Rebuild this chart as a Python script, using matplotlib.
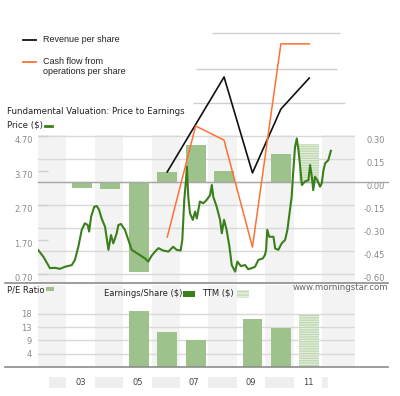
import matplotlib
matplotlib.use("Agg")
import matplotlib.pyplot as plt
from matplotlib.lines import Line2D
from matplotlib.patches import Rectangle

# ---- data ----
band_years = [2002, 2004, 2006, 2008, 2010, 2012]
label_years = [2003, 2005, 2007, 2009, 2011]
year_labels = ["03", "05", "07", "09", "11"]

eps_years = [2003, 2004, 2005, 2006, 2007, 2008, 2010]
eps_values = [-0.04, -0.046, -0.59, 0.066, 0.241, 0.074, 0.181]
ttm_year = 2011
eps_ttm = 0.248

pe_years = [2005, 2006, 2007, 2009, 2010]
pe_values = [18.9, 11.8, 9.1, 16.2, 13.2]
pe_ttm = 17.6

price_points = [
    (2002.00, 1.40), (2002.19, 1.20), (2002.42, 0.87), (2002.60, 0.88), (2002.77, 0.85),
    (2002.95, 0.91), (2003.19, 0.96), (2003.30, 1.11), (2003.42, 1.49), (2003.54, 1.98),
    (2003.65, 2.17), (2003.75, 2.12), (2003.80, 1.93), (2003.87, 2.36), (2003.98, 2.65),
    (2004.07, 2.67), (2004.15, 2.56), (2004.24, 2.31), (2004.36, 2.07), (2004.48, 1.40),
    (2004.57, 1.83), (2004.65, 1.59), (2004.71, 1.73), (2004.77, 1.88), (2004.83, 2.12),
    (2004.92, 2.15), (2005.06, 1.98), (2005.18, 1.69), (2005.30, 1.40), (2005.53, 1.28),
    (2005.77, 1.15), (2005.88, 1.06), (2006.00, 1.23), (2006.12, 1.35), (2006.24, 1.45),
    (2006.41, 1.38), (2006.59, 1.35), (2006.76, 1.49), (2006.88, 1.40), (2007.02, 1.38),
    (2007.08, 1.69), (2007.15, 2.85), (2007.21, 3.42), (2007.24, 3.81), (2007.29, 2.94),
    (2007.35, 2.46), (2007.45, 2.27), (2007.53, 2.51), (2007.59, 2.31), (2007.70, 2.80),
    (2007.82, 2.75), (2007.94, 2.85), (2008.06, 2.99), (2008.12, 3.28), (2008.17, 2.94),
    (2008.29, 2.65), (2008.41, 2.27), (2008.47, 1.88), (2008.55, 2.27), (2008.64, 1.98),
    (2008.74, 1.49), (2008.82, 0.96), (2008.94, 0.77), (2009.02, 1.06), (2009.14, 0.93),
    (2009.29, 0.96), (2009.40, 0.84), (2009.52, 0.87), (2009.64, 0.91), (2009.76, 1.11),
    (2009.91, 1.15), (2009.99, 1.25), (2010.03, 1.40), (2010.07, 1.98), (2010.14, 1.78),
    (2010.29, 1.78), (2010.35, 1.44), (2010.46, 1.40), (2010.58, 1.59), (2010.70, 1.69),
    (2010.78, 1.98), (2010.87, 2.56), (2010.93, 2.94), (2010.99, 3.71), (2011.05, 4.39),
    (2011.11, 4.63), (2011.17, 4.29), (2011.23, 3.81), (2011.29, 3.28), (2011.40, 3.38),
    (2011.52, 3.42), (2011.58, 3.86), (2011.64, 3.52), (2011.69, 3.13), (2011.75, 3.52),
    (2011.83, 3.42), (2011.93, 3.23), (2011.99, 3.33), (2012.05, 3.71), (2012.11, 3.91),
    (2012.22, 4.00), (2012.31, 4.27),
]
price_dates = [p[0] for p in price_points]
price_values = [p[1] for p in price_points]

# hand drawn overlay, in price axis units
revenue_years = [2006, 2008, 2009, 2010, 2011]
revenue_values = [3.66, 6.41, 3.63, 5.48, 6.38]
cashflow_years = [2006, 2007, 2008, 2009, 2010, 2011]
cashflow_values = [1.77, 4.99, 4.58, 1.48, 7.37, 7.37]
overlay_levels = [5.66, 6.64, 7.69]
overlay_start = [2007.46, 2007.56, 2008.13]
overlay_end = [2012.81, 2012.53, 2012.63]

# ---- style ----
BAR = "#9dc28c"
TTM_FACE = "#e2eedb"
TTM_HATCH = "#bcd6ad"
PRICE = "#3a7f1c"
BAND = "#f3f3f3"
GRID = "#d9d9d9"
TICK = "#8a8a8a"
plt.rcParams["font.family"] = "DejaVu Sans"
plt.rcParams["hatch.linewidth"] = 0.8

W, H = 400, 396
fig = plt.figure(figsize=(W / 100, H / 100), dpi=100)


def box(x0, y0, x1, y1):
    return [x0 / W, 1 - y1 / H, (x1 - x0) / W, (y1 - y0) / H]


XMIN, XMAX = 2002.0, 2013.16
OFF = 0.55  # bar centre inside a year column

# upper chart: eps bars (right axis), price (left axis)
ax_price = fig.add_axes(box(38, 135, 355, 283))
ax_eps = ax_price.twinx()
ax_price.set_zorder(ax_eps.get_zorder() + 1)
ax_price.patch.set_visible(False)

for a in (ax_price, ax_eps):
    a.set_xlim(XMIN, XMAX)
    a.set_xticks([])
    for s in a.spines.values():
        s.set_visible(False)

ax_eps.set_ylim(-0.659, 0.3065)
ax_price.set_ylim(0.44, 4.729)

for y in band_years:
    ax_eps.axvspan(y, min(y + 1, XMAX) if y < band_years[-1] else XMAX, color=BAND, lw=0, zorder=0)
ax_eps.set_axisbelow(True)
ax_eps.set_yticks([0.30, 0.15, 0.0, -0.15, -0.30, -0.45, -0.60])
ax_eps.set_yticklabels(["0.30", "0.15", "0.00", "-0.15", "-0.30", "-0.45", "-0.60"])
ax_eps.grid(axis="y", color=GRID, lw=1)
ax_eps.tick_params(axis="y", length=0, pad=21.6, labelsize=6, labelcolor=TICK)
plt.setp(ax_eps.get_yticklabels(), ha="right", va="top")

ax_eps.bar([y + OFF for y in eps_years], eps_values, width=0.7, color=BAR, zorder=2)
ax_eps.bar(ttm_year + OFF, eps_ttm, width=0.7, facecolor=TTM_FACE, edgecolor=TTM_HATCH,
           hatch="-------", lw=0, zorder=2)
ax_eps.axhline(0, xmin=0, xmax=(388 - 38) / (355 - 38), color="#a8a8a8", lw=1,
               clip_on=False, zorder=3)

ax_price.set_yticks([0.7, 1.7, 2.7, 3.7, 4.7])
ax_price.set_yticklabels(["0.70", "1.70", "2.70", "3.70", "4.70"])
ax_price.tick_params(axis="y", direction="in", length=7, width=1, color="#cfcfcf",
                     pad=3.6, labelsize=6, labelcolor=TICK)
plt.setp(ax_price.get_yticklabels(), va="top")
ax_price.plot(price_dates, price_values, color=PRICE, lw=1.5, zorder=3)

# overlay drawn on top of the chart
ax_price.hlines(overlay_levels, overlay_start, overlay_end, color="#cfcfcf", lw=1, clip_on=False)
ax_price.plot([y + OFF for y in revenue_years], revenue_values, color="#111111", lw=1.2,
              clip_on=False, zorder=5)
ax_price.plot([y + OFF for y in cashflow_years], cashflow_values, color="#ff7033", lw=1.1,
              clip_on=False, zorder=5)

# P/E chart
ax_pe = fig.add_axes(box(38, 285, 355, 367))
ax_pe.set_xlim(XMIN, XMAX)
ax_pe.set_ylim(0, 27.7)
for s in ax_pe.spines.values():
    s.set_visible(False)
for y in band_years:
    ax_pe.axvspan(y, y + 1 if y < band_years[-1] else XMAX, color=BAND, lw=0, zorder=0)
ax_pe.set_axisbelow(True)
ax_pe.set_yticks([4.5, 9, 13.5, 18])
ax_pe.set_yticklabels(["4", "9", "13", "18"])
ax_pe.grid(axis="y", color=GRID, lw=1)
ax_pe.tick_params(axis="y", length=0, pad=4.3, labelsize=6, labelcolor=TICK)
ax_pe.set_xticks([y + 0.5 for y in label_years])
ax_pe.set_xticklabels(year_labels)
ax_pe.tick_params(axis="x", length=0, pad=8, labelsize=6, labelcolor="#444444")
ax_pe.bar([y + OFF for y in pe_years], pe_values, width=0.7, color=BAR, zorder=2)
ax_pe.bar(ttm_year + OFF, pe_ttm, width=0.7, facecolor=TTM_FACE, edgecolor=TTM_HATCH,
          hatch="-------", lw=0, zorder=2)

# year label row boxes
ax_lab = fig.add_axes(box(49, 377, 328, 388), zorder=-1)
ax_lab.set_xlim(2002.387, 2012.211)
ax_lab.axis("off")
for y in band_years:
    ax_lab.axvspan(y, y + 1, color="#eeeeee", lw=0)

# separators
for ypx in (283, 367):
    fig.add_artist(Line2D([5 / W, 388 / W], [1 - ypx / H] * 2, color="#8c8c8c", lw=1.2))

# texts and keys
fig.text(7 / W, 1 - 112 / H, "Fundamental Valuation: Price to Earnings", fontsize=6.2,
         color="#222222", va="center")
fig.text(7 / W, 1 - 125 / H, "Price ($)", fontsize=6.2, color="#222222", va="center")
fig.add_artist(Line2D([45 / W, 52 / W], [1 - 126 / H] * 2, color=PRICE, lw=2))

fig.text(7 / W, 1 - 290 / H, "P/E Ratio", fontsize=6, color="#222222", va="center")
fig.add_artist(Rectangle((46 / W, 1 - 291 / H), 8 / W, 4 / H, color=BAR, lw=0))
fig.text(104 / W, 1 - 293 / H, "Earnings/Share ($)", fontsize=6, color="#222222", va="center")
fig.add_artist(Rectangle((183 / W, 1 - 297 / H), 12 / W, 6 / H, color=PRICE, lw=0))
fig.text(202 / W, 1 - 293 / H, "TTM ($)", fontsize=6, color="#222222", va="center")
fig.add_artist(Rectangle((237 / W, 1 - 298 / H), 12 / W, 8 / H, facecolor=TTM_FACE,
                         edgecolor=TTM_HATCH, hatch="-----", lw=0))
fig.text(388 / W, 1 - 288 / H, "www.morningstar.com", fontsize=6.2, color="#666666",
         va="center", ha="right")

fig.add_artist(Line2D([23 / W, 36 / W], [1 - 40 / H] * 2, color="#111111", lw=1.3))
fig.text(43 / W, 1 - 40 / H, "Revenue per share", fontsize=6.5, family="Liberation Sans",
         color="#222222", va="center")
fig.add_artist(Line2D([23 / W, 36 / W], [1 - 62 / H] * 2, color="#ff7033", lw=1.3))
fig.text(43 / W, 1 - 56.5 / H, "Cash flow from\noperations per share", fontsize=6.5,
         family="Liberation Sans", color="#222222", va="top", linespacing=1.25)

fig.savefig("out.png", dpi=100)
